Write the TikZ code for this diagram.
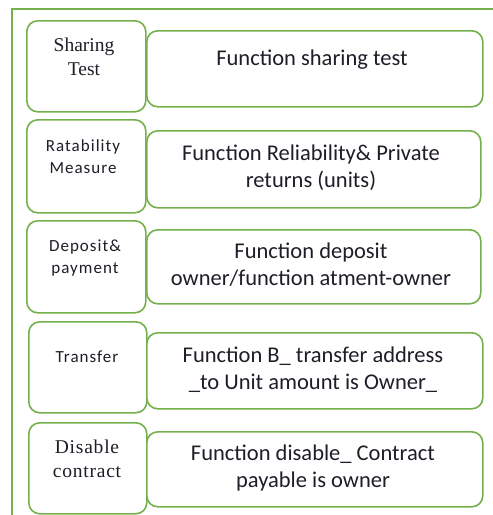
\documentclass[tikz,border=0pt]{standalone}
\usepackage{fontspec}
\setmainfont{Carlito}
\newfontfamily\capserif{Liberation Serif}
\newfontfamily\spacedsans[LetterSpace=6]{Carlito}
\definecolor{leafgreen}{RGB}{116,176,76}
\definecolor{inkdark}{RGB}{30,30,40}
\begin{document}
\begin{tikzpicture}[x=1pt,y=1pt,
  box/.style={draw=leafgreen, line width=1.6pt, rounded corners=11pt, fill=white,
              anchor=north west, inner sep=0pt},
  ltxt/.style={text=inkdark, align=center, font=\spacedsans\fontsize{17}{22}\selectfont},
  stxt/.style={text=inkdark, align=center, font=\capserif\fontsize{19.5}{24}\selectfont},
  rtxt/.style={text=inkdark, align=center, font=\fontsize{22.5}{27}\selectfont}]
\useasboundingbox (0,0) rectangle (493,-515);
% outer frame (top and left edges)
\draw[leafgreen, line width=1.4pt] (12,-515) -- (12,-9) -- (495,-9);

% left column boxes
\node[box, minimum width=119, minimum height=91] (l1) at (26,-20) {};
\node[box, minimum width=119, minimum height=93] (l2) at (26,-119) {};
\node[box, minimum width=119, minimum height=92] (l3) at (26,-220) {};
\node[box, minimum width=118, minimum height=91] (l4) at (28,-321) {};
\node[box, minimum width=118, minimum height=91] (l5) at (28,-422) {};

% right column boxes
\node[box, minimum width=336, minimum height=76] (r1) at (146,-30) {};
\node[box, minimum width=334, minimum height=77] (r2) at (146,-130) {};
\node[box, minimum width=334, minimum height=74] (r3) at (146,-229) {};
\node[box, minimum width=336, minimum height=76] (r4) at (146,-332) {};
\node[box, minimum width=336, minimum height=75] (r5) at (146,-431) {};

% labels of the left column
\node[stxt] (t1) at (84,-57) {Sharing\\Test};
\node[ltxt] (t2) at (83,-157) {Ratability\\Measure};
\node[ltxt] (t3) at (85,-258) {Deposit\&\\payment};
\node[ltxt] (t4) at (87,-357) {Transfer};
\node[stxt, font=\capserif\addfontfeature{LetterSpace=4}\fontsize{19.5}{24}\selectfont] (t5) at (87,-459) {Disable\\contract};

% labels of the right column
\node[rtxt] (u1) at (312,-60) {Function sharing test};
\node[rtxt] (u2) at (311,-168) {Function Reliability\& Private\\returns (units)};
\node[rtxt] (u3) at (311,-265) {Function deposit\\owner/function atment-owner};
\node[rtxt] (u4) at (313,-370) {Function B\_ transfer address\\\_to Unit amount is Owner\_};
\node[rtxt] (u5) at (313,-468) {Function disable\_ Contract\\payable is owner};
\end{tikzpicture}
\end{document}
